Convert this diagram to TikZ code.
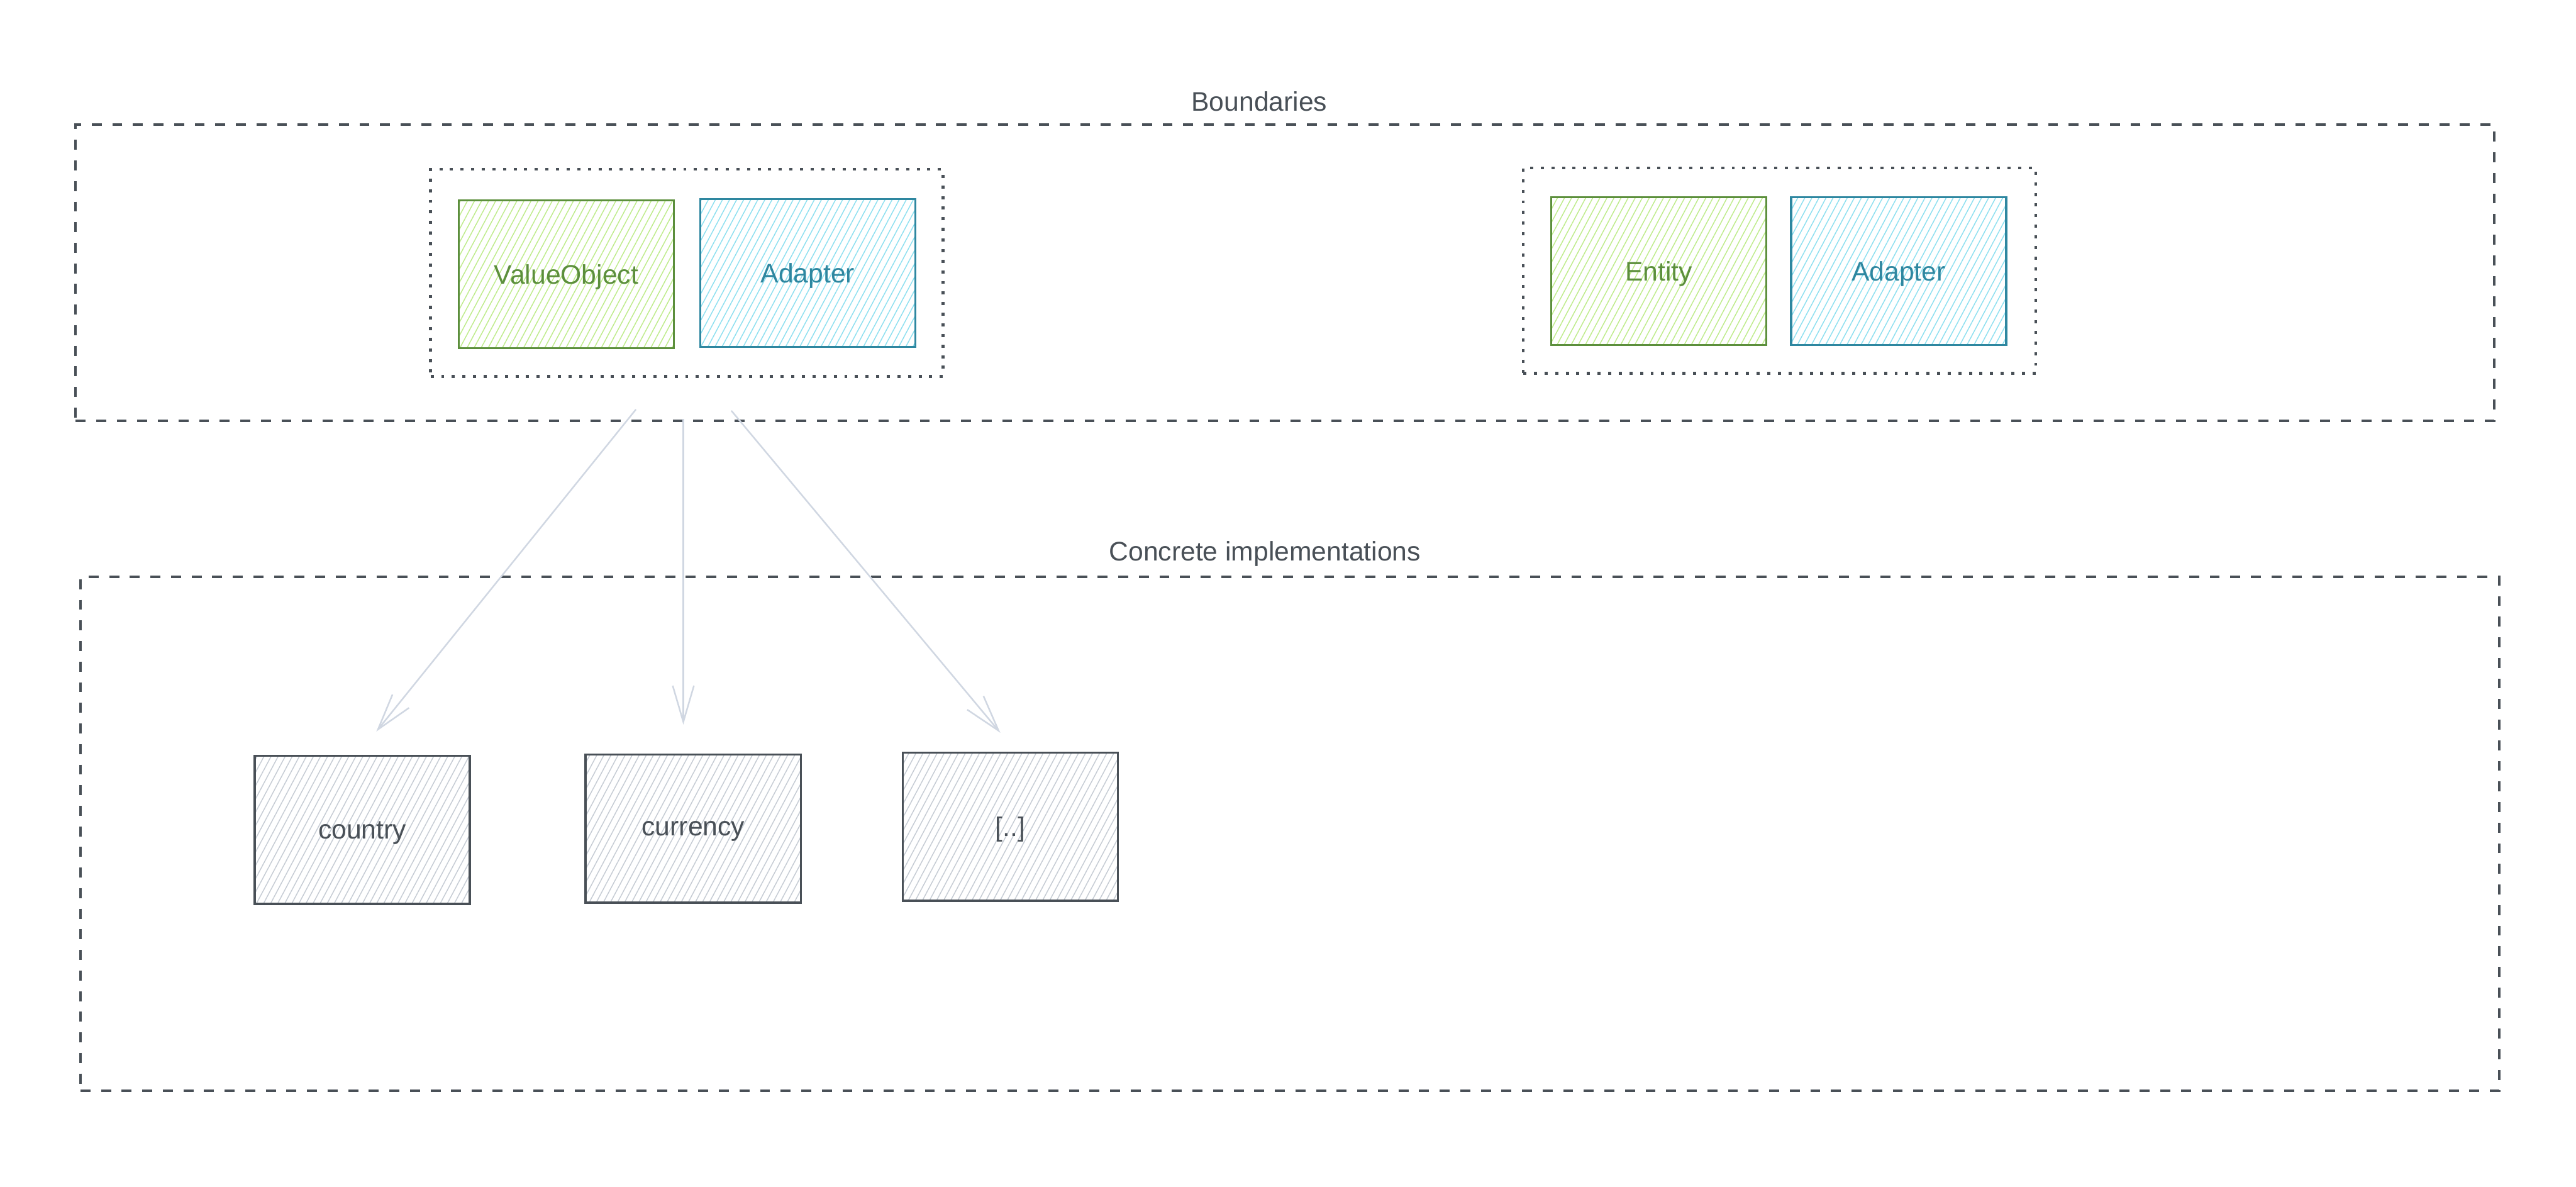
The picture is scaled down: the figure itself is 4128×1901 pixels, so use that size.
\documentclass[tikz,border=0pt]{standalone}
\usepackage{fontspec}
\setmainfont{Liberation Sans}
\usetikzlibrary{arrows.meta,patterns.meta}
\definecolor{ink}{HTML}{495057}
\definecolor{greenink}{HTML}{5C8F3C}
\definecolor{greenhatch}{HTML}{BFEC8C}
\definecolor{blueink}{HTML}{2E87A0}
\definecolor{bluehatch}{HTML}{8EE0F0}
\definecolor{grayhatch}{HTML}{C6CCD4}
\definecolor{arrowcol}{HTML}{D0D7E2}
\tikzset{
  groupbox/.style={draw=ink, line width=4pt, dash pattern=on 16pt off 17pt, inner sep=0pt},
  pairbox/.style={draw=ink, line width=4.5pt, dash pattern=on 5pt off 12pt, inner sep=0pt},
  title/.style={text=ink, font=\fontsize{43}{50}\selectfont},
  hatched/.style={pattern={Lines[angle=62,distance=10pt,line width=1.5pt]},
    minimum width=345pt, minimum height=237pt, inner sep=0pt, text depth=0pt},
  greenbox/.style={hatched, draw=greenink, line width=3.5pt, text=greenink, pattern color=greenhatch},
  bluebox/.style={hatched, draw=blueink, line width=3.5pt, text=blueink, pattern color=bluehatch},
  graybox/.style={hatched, draw=ink, line width=3.5pt, text=ink, pattern color=grayhatch},
  flow/.style={draw=arrowcol, line width=2.5pt, -{Straight Barb[length=58pt,width=34pt,line width=2.5pt]}},
}
\begin{document}
\begin{tikzpicture}[x=1pt,y=-1pt,font=\fontsize{43}{50}\selectfont]
\useasboundingbox[fill=white] (0,0) rectangle (4128,1901);

% outer groups
\node[groupbox, minimum width=3876pt, minimum height=474pt] (bnd) at (2059,437) {};
\node[title] (bndt) at (2018,163) {Boundaries};
\node[groupbox, minimum width=3876pt, minimum height=824pt] (impl) at (2067,1336) {};
\node[title] (implt) at (2027,887) {Concrete implementations};

% dotted pairs
\node[pairbox, minimum width=821pt, minimum height=332pt] (pair1) at (1100.5,437) {};
\node[pairbox, minimum width=821pt, minimum height=329pt] (pair2) at (2851.5,433.5) {};

% inner boxes
\node[greenbox] (vo) at (907.5,439.5) {ValueObject};
\node[bluebox] (ad1) at (1294.5,437.5) {Adapter};
\node[greenbox] (ent) at (2658,434.5) {Entity};
\node[bluebox] (ad2) at (3042.5,434.5) {Adapter};

% implementations
\node[graybox] (country) at (580.5,1329.5) {country};
\node[graybox] (currency) at (1111,1327.5) {currency};
\node[graybox] (more) at (1619,1324.5) {[..]};

% arrows
\coordinate (s1) at (1019,656);
\coordinate (e1) at (603,1172);
\coordinate (s2) at (1095,671);
\coordinate (e2) at (1095,1161);
\coordinate (s3) at (1172,658);
\coordinate (e3) at (1603,1174);
\draw[flow] (s1) -- (e1);
\draw[flow] (s2) -- (e2);
\draw[flow] (s3) -- (e3);
\end{tikzpicture}
\end{document}
